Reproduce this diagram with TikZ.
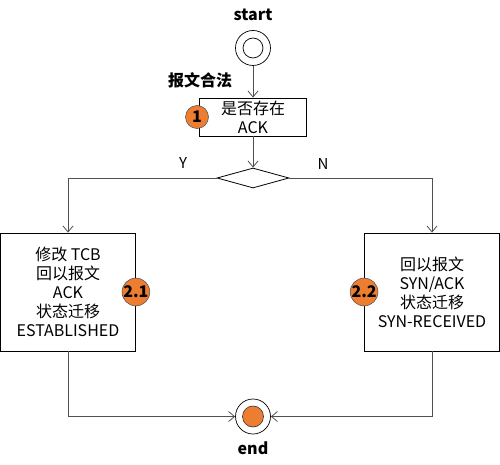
\documentclass[tikz,border=0pt]{standalone}
\usepackage{fontspec}
\setmainfont{Noto Sans CJK SC}
\usepackage{tikz}
\usetikzlibrary{positioning,arrows.meta,shapes.geometric,calc}
\definecolor{badgeorange}{HTML}{ED7D31}
\definecolor{linegray}{HTML}{505050}

\begin{document}
\begin{tikzpicture}[x=1pt,y=1pt,
    box/.style={draw,line width=0.8pt,align=center,inner sep=2pt,
      font=\fontsize{16}{19}\selectfont},
    badge/.style={circle,draw=black!70,line width=0.5pt,fill=badgeorange,
      minimum size=23,inner sep=0pt,font=\fontsize{16}{16}\selectfont\bfseries},
    arr/.style={draw=linegray,line width=0.8pt,-{Straight Barb[length=6pt,width=10pt]}},
    lbl/.style={font=\fontsize{16}{16}\selectfont\bfseries}]
  \useasboundingbox (0,0) rectangle (500,464);
  % start and end
  \node[circle,draw,line width=0.7pt,minimum size=35,inner sep=0pt] (start) at (253,416) {};
  \node[circle,draw,line width=0.7pt,minimum size=20,inner sep=0pt] at (start) {};
  \node[lbl] (startlbl) at (253,449) {start};
  \node[circle,draw,line width=0.7pt,minimum size=35,inner sep=0pt] (end) at (253,47.5) {};
  \node[circle,draw=black!80,line width=0.6pt,fill=badgeorange,minimum size=21,inner sep=0pt] at (end) {};
  \node[lbl] (endlbl) at (253,16) {end};
  % check
  \node[box,minimum width=107,minimum height=38] (check) at (253,347) {是否存在\\ACK};
  \node[lbl] (legal) at (200,384) {报文合法};
  \node[badge] (b1) at (197,347) {1};
  \node[diamond,draw,line width=0.8pt,minimum width=72,minimum height=20,
    aspect=3.6,inner sep=0pt] (dec) at (253,286) {};
  % branches
  \node[box,minimum width=135,minimum height=118] (est) at (68,172)
    {修改 TCB\\回以报文\\ACK\\状态迁移\\ESTABLISHED};
  \node[box,minimum width=135,minimum height=118] (rcv) at (432,172)
    {回以报文\\SYN/ACK\\状态迁移\\SYN-RECEIVED};
  \node[badge] (b21) at (est.east) {2.1};
  \node[badge] (b22) at (rcv.west) {2.2};
  \node[font=\fontsize{15}{15}\selectfont] (ylbl) at (183,301) {Y};
  \node[font=\fontsize{15}{15}\selectfont] (nlbl) at (323,300) {N};
  % connectors
  \draw[arr] (start) -- (check);
  \draw[arr] (check) -- (dec);
  \draw[arr] (dec.west) -| (est.north);
  \draw[arr] (dec.east) -| (rcv.north);
  \draw[arr] (est.south) |- (end.west);
  \draw[arr] (rcv.south) |- (end.east);
\end{tikzpicture}
\end{document}
